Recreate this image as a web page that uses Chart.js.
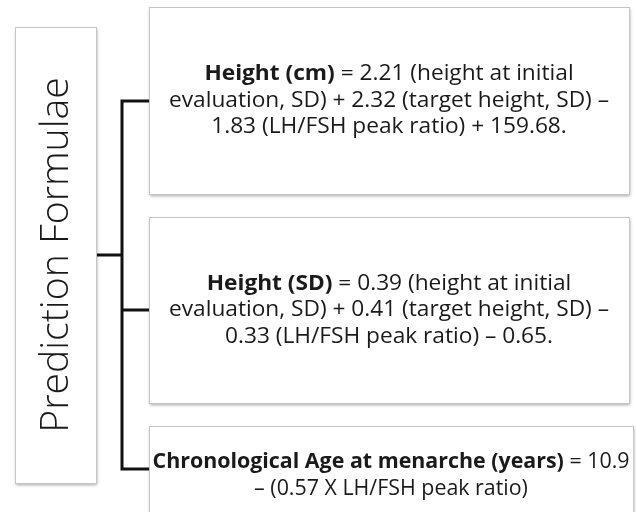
<!DOCTYPE html>
<html>
<head>
<meta charset="utf-8">
<script src="https://cdn.jsdelivr.net/npm/chart.js@4.4.0/dist/chart.umd.min.js"></script>
<style>
  html, body { margin: 0; padding: 0; background: #fff; }
</style>
</head>
<body>
<canvas id="diagram" width="636" height="512"></canvas>
<script>
// text of the diagram
const rootLabel = 'Prediction Formulae';
// each line = [bold part, regular part]
const heightCmLines = [
  ['Height (cm)', ' = 2.21 (height at initial'],
  ['', 'evaluation, SD) + 2.32 (target height, SD) \u2013'],
  ['', '1.83 (LH/FSH peak ratio) + 159.68.']
];
const heightSdLines = [
  ['Height (SD)', ' = 0.39 (height at initial'],
  ['', 'evaluation, SD) + 0.41 (target height, SD) \u2013'],
  ['', '0.33 (LH/FSH peak ratio) \u2013 0.65.']
];
const menarcheLines = [
  ['Chronological Age at menarche (years)', ' = 10.9'],
  ['', '\u2013 (0.57 X LH/FSH peak ratio)']
];
const formulae = [heightCmLines, heightSdLines, menarcheLines];

const FONT = '"Open Sans", Lato, sans-serif';

// box layout in page units (x 0..636, y 0..512)
const layout = {
  root: { x0: 15, y0: 27, x1: 96, y1: 483 },
  trunkX: 122,
  branchY: [101, 310, 469],
  boxes: [
    { x0: 149, y0: 7, x1: 629, y1: 194, fit: 440 },
    { x0: 149, y0: 217, x1: 629, y1: 403, fit: 440 },
    { x0: 149, y0: 426, x1: 633, y1: 524, fit: 477 }
  ],
  lineGap: 26.5,
  fontSize: 22,
  titleLength: 356
};

const treePlugin = {
  id: 'tree',
  afterDraw(chart) {
    const ctx = chart.ctx;
    const X = v => chart.scales.x.getPixelForValue(v);
    const Y = v => chart.scales.y.getPixelForValue(v);

    function box(b) {
      const x = X(b.x0), y = Y(b.y0), w = X(b.x1) - x, h = Y(b.y1) - y;
      ctx.save();
      ctx.shadowColor = 'rgba(0,0,0,0.35)';
      ctx.shadowBlur = 3;
      ctx.shadowOffsetX = 1;
      ctx.shadowOffsetY = 2;
      ctx.fillStyle = '#fff';
      ctx.fillRect(x, y, w, h);
      ctx.restore();
      ctx.strokeStyle = '#c6c6c6';
      ctx.lineWidth = 1;
      ctx.strokeRect(Math.round(x) + 0.5, Math.round(y) + 0.5, Math.round(w), Math.round(h));
    }

    // connector lines
    ctx.save();
    ctx.strokeStyle = '#111';
    ctx.lineWidth = 3;
    ctx.lineCap = 'square';
    const br = layout.branchY;
    const rootMid = (layout.root.y0 + layout.root.y1) / 2;
    ctx.beginPath();
    ctx.moveTo(X(layout.trunkX), Y(br[0]));
    ctx.lineTo(X(layout.trunkX), Y(br[br.length - 1]));
    ctx.moveTo(X(layout.root.x1), Y(rootMid));
    ctx.lineTo(X(layout.trunkX), Y(rootMid));
    br.forEach(m => {
      ctx.moveTo(X(layout.trunkX), Y(m));
      ctx.lineTo(X(layout.boxes[0].x0), Y(m));
    });
    ctx.stroke();
    ctx.restore();

    // root box with rotated title
    box(layout.root);
    ctx.save();
    ctx.translate(X((layout.root.x0 + layout.root.x1) / 2 + 1), Y(rootMid));
    ctx.rotate(-Math.PI / 2);
    ctx.font = '300 40px ' + FONT;
    const tw = ctx.measureText(rootLabel).width;
    const ts = 40 * layout.titleLength / tw;
    ctx.font = '300 ' + ts.toFixed(1) + 'px ' + FONT;
    ctx.fillStyle = '#1a1a1a';
    ctx.textAlign = 'center';
    ctx.textBaseline = 'middle';
    ctx.fillText(rootLabel, 0, 0);
    ctx.restore();

    // formula boxes
    const fs = layout.fontSize;
    function lineWidths(ln) {
      ctx.font = 'bold ' + fs + 'px ' + FONT;
      const bw = ln[0] ? ctx.measureText(ln[0]).width : 0;
      ctx.font = fs + 'px ' + FONT;
      return [bw, ctx.measureText(ln[1]).width];
    }

    formulae.forEach((lines, i) => {
      const b = layout.boxes[i];
      box(b);
      const widest = Math.max(...lines.map(ln => { const w = lineWidths(ln); return w[0] + w[1]; }));
      const squeeze = b.fit / widest;
      const cx = X((b.x0 + b.x1) / 2);
      const cy = Y((b.y0 + b.y1) / 2);
      lines.forEach((ln, j) => {
        const y = cy + (j - (lines.length - 1) / 2) * layout.lineGap;
        const [bw, rw] = lineWidths(ln);
        ctx.save();
        ctx.translate(cx, y);
        ctx.scale(squeeze, 1);
        ctx.textBaseline = 'middle';
        ctx.textAlign = 'left';
        ctx.fillStyle = '#1a1a1a';
        let x = -(bw + rw) / 2;
        if (ln[0]) {
          ctx.font = 'bold ' + fs + 'px ' + FONT;
          ctx.fillText(ln[0], x, 0);
          x += bw;
        }
        ctx.font = fs + 'px ' + FONT;
        ctx.fillText(ln[1], x, 0);
        ctx.restore();
      });
    });
  }
};

new Chart(document.getElementById('diagram'), {
  type: 'scatter',
  data: { datasets: [{ data: [] }] },
  options: {
    responsive: false,
    animation: false,
    layout: { padding: 0 },
    plugins: { legend: { display: false }, tooltip: { enabled: false } },
    scales: {
      x: { type: 'linear', min: 0, max: 636, display: false },
      y: { type: 'linear', min: 0, max: 512, reverse: true, display: false }
    }
  },
  plugins: [treePlugin]
});
</script>
</body>
</html>
